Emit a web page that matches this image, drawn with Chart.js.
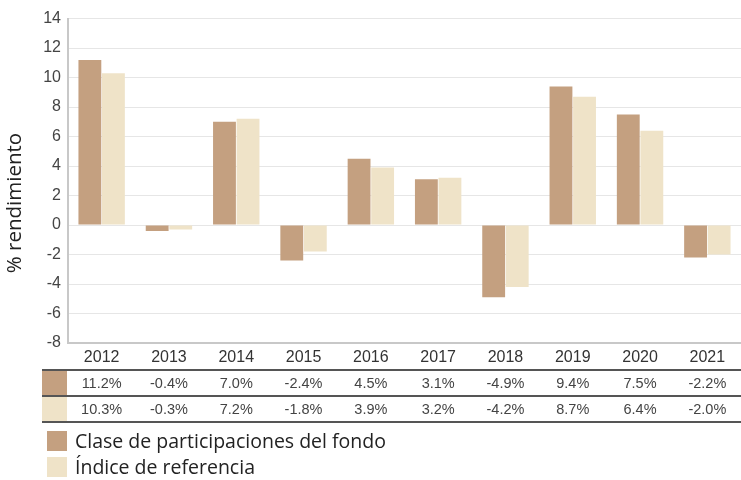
<!DOCTYPE html>
<html><head><meta charset="utf-8">
<script src="https://cdn.jsdelivr.net/npm/chart.js@4"></script>
<style>html,body{margin:0;padding:0;background:#fff}#wrap{width:741px;height:478px;margin-top:2px;position:relative}</style>
</head><body><div id="wrap"><canvas id="c"></canvas></div>
<script>
const categories = ["2012","2013","2014","2015","2016","2017","2018","2019","2020","2021"];
const fundValues = [11.2,-0.4,7.0,-2.4,4.5,3.1,-4.9,9.4,7.5,-2.2];
const indexValues = [10.3,-0.3,7.2,-1.8,3.9,3.2,-4.2,8.7,6.4,-2.0];
const seriesNames = ["Clase de participaciones del fondo","Índice de referencia"];
const colors = ["#c4a080","#efe3c8"];
const yTitle = "% rendimiento";
const OFF = 2; // canvas vertical offset on page

const tablePlugin = {
  id:'tbl',
  afterDraw(chart){
    const ctx = chart.ctx, xs = chart.scales.x;
    const rows = [fundValues, indexValues];
    const lineYs = [370-OFF,396-OFF,422-OFF];
    ctx.save();
    rows.forEach((r,i)=>{
      ctx.fillStyle = colors[i];
      ctx.fillRect(42, lineYs[i]+1, 25, lineYs[i+1]-lineYs[i]-1);
    });
    ctx.strokeStyle = "#555"; ctx.lineWidth = 2;
    lineYs.forEach(y=>{ctx.beginPath();ctx.moveTo(42,y);ctx.lineTo(741,y);ctx.stroke();});
    ctx.font = "14.5px 'Liberation Sans', Arial, sans-serif";
    ctx.fillStyle = "#444"; ctx.textAlign="center"; ctx.textBaseline="middle";
    rows.forEach((r,i)=>{
      r.forEach((v,j)=>{
        ctx.fillText(v.toFixed(1)+"%", xs.getPixelForValue(j), (lineYs[i]+lineYs[i+1])/2+1);
      });
    });
    ctx.textAlign="left";
    ctx.font = "19.5px 'Open Sans', sans-serif";
    seriesNames.forEach((n,i)=>{
      const y = 431 - OFF + i*26;
      ctx.fillStyle = colors[i];
      ctx.fillRect(47, y, 20, 20);
      ctx.fillStyle = "#222";
      ctx.fillText(n, 75, y+11);
    });
    ctx.translate(15, 203-OFF);
    ctx.rotate(-Math.PI/2);
    ctx.textAlign="center";
    ctx.font = "20.5px 'Open Sans', sans-serif";
    ctx.fillStyle = "#222";
    ctx.fillText(yTitle, 0, 0);
    ctx.restore();
  }
};

new Chart(document.getElementById('c'), {
  type:'bar',
  data:{
    labels:categories,
    datasets:[
      {label:seriesNames[0], data:fundValues, backgroundColor:colors[0]},
      {label:seriesNames[1], data:indexValues, backgroundColor:colors[1]}
    ]
  },
  options:{
    responsive:true, maintainAspectRatio:false, animation:false,
    layout:{padding:{top:14,right:0,bottom:0,left:0}},
    categoryPercentage:0.7, barPercentage:0.97,
    plugins:{legend:{display:false}, tooltip:{enabled:false}},
    scales:{
      x:{
        grid:{display:false, drawTicks:false},
        border:{color:"#c8c8c8", width:2},
        ticks:{color:"#333", font:{family:"'Liberation Sans', Arial, sans-serif", size:16}, padding:5, maxRotation:0},
        afterFit(s){ s.height = 480-343; }
      },
      y:{
        min:-8, max:14,
        ticks:{stepSize:2, color:"#444", font:{family:"'Liberation Sans', Arial, sans-serif", size:16}, padding:7},
        grid:{color:"#e6e6e6", drawTicks:false, lineWidth:1},
        border:{color:"#c8c8c8", width:2},
        afterFit(s){ s.width = 68; }
      }
    }
  },
  plugins:[tablePlugin]
});
</script></body></html>
